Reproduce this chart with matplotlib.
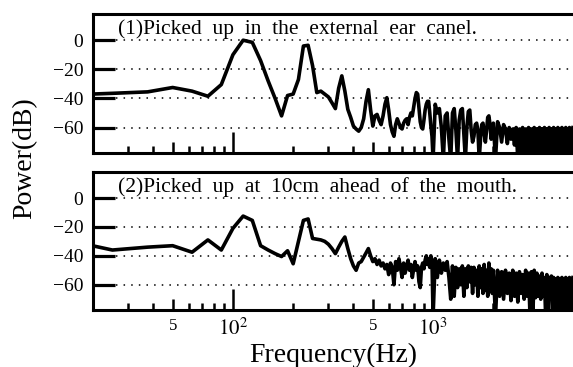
import matplotlib
matplotlib.use('Agg')
import matplotlib.pyplot as plt
import numpy as np

plt.rcParams['font.family'] = ['Liberation Serif', 'DejaVu Serif']
plt.rcParams['mathtext.fontset'] = 'stix'

# frequency bins (Hz)
freq_low = np.arange(12.5, 1000, 12.5)
freq_mid = np.arange(1000, 2000, 25)
freq_high = np.arange(2000, 5001, 50)

# (1) external ear canal, dB
ear_low = [-38, -36.5, -35.5, -32.5, -35, -38.5, -30.5, -10, 0, -1.5,
           -14, -28, -40, -52, -38, -37, -27, -4, -3.5, -17.5,
           -36, -35, -37, -39, -43, -47, -33, -24.5, -35, -47.5,
           -53, -59, -61, -62.5, -60, -54, -42, -34, -48, -59,
           -52, -51, -55, -58, -52, -44, -39.5, -48, -58, -63,
           -66, -58, -54, -57, -60, -61, -57, -55, -54, -58,
           -53, -50, -52, -46, -40, -36, -37, -47, -56, -60,
           -61, -55, -48, -44, -42, -42, -50, -59, -66]
ear_mid = [-82, -44, -50, -47, -60, -82, -52, -50, -68, -82,
           -50, -47, -62, -82, -55, -48, -47, -65, -82, -60,
           -49, -48, -62, -70, -66, -58, -57, -62, -82, -68,
           -58, -57, -64, -70, -62, -53, -52, -58, -68, -63]
ear_high = [-57, -82, -56, -60, -70, -58, -61, -71, -60, -68,
            -61, -72, -60, -82, -61, -82, -60, -82, -61, -82,
            -60, -82, -61, -82, -60, -82, -61, -82, -60, -82,
            -61, -82, -60, -82, -61, -82, -60, -82, -61, -82,
            -60, -82, -61, -82, -60, -82, -61, -82, -60, -82,
            -61, -82, -60, -82, -61, -82, -60, -82, -61, -82, -60]

# (2) 10 cm ahead of the mouth, dB
mouth_low = [-27, -36, -34, -33, -37.5, -29, -36, -21, -12.5, -15.5,
             -33, -36, -38.5, -40.5, -36.5, -45.5, -30, -15.5, -14.5, -28,
             -28.5, -29, -30, -32, -35, -38.5, -34, -30, -27, -35,
             -42, -47, -50, -45, -44, -41, -38, -35, -40, -44,
             -42, -46, -43, -47, -45, -49, -46, -53, -45, -48,
             -60, -44, -50, -42, -48, -55, -45, -52, -47, -43,
             -50, -46, -55, -49, -44, -50, -47, -58, -62, -48,
             -45, -49, -43, -40, -46, -42, -48, -40, -44]
mouth_mid = [-82, -42, -55, -43, -52, -45, -50, -44, -55, -70,
             -47, -68, -48, -62, -49, -60, -47, -68, -49, -62,
             -47, -58, -48, -66, -48, -60, -50, -68, -47, -62,
             -49, -66, -46, -64, -50, -68, -45, -60, -49, -66]
mouth_high = [-50, -82, -50, -68, -51, -70, -50, -66, -52, -71,
              -50, -68, -52, -72, -51, -66, -53, -70, -50, -68,
              -52, -82, -51, -82, -50, -69, -52, -68, -54, -70,
              -52, -68, -55, -82, -53, -82, -55, -70, -54, -82,
              -55, -82, -56, -82, -55, -82, -56, -82, -55, -82,
              -56, -82, -55, -82, -56, -82, -55, -82, -56, -82, -55]

titles = ['(1)Picked  up  in  the  external  ear  canel.',
          '(2)Picked  up  at  10cm  ahead  of  the  mouth.']
yticks = [0, -20, -40, -60]
major_x = [50, 100, 500, 1000]
major_lbl = ['5', '$10^2$', '5', '$10^3$']
minor_x = [30, 40, 60, 70, 80, 90, 200, 300, 400, 600, 700, 800, 900,
           2000, 3000, 4000]

freq = np.concatenate([freq_low, freq_mid, freq_high])
series = [np.concatenate([ear_low, ear_mid, ear_high]),
          np.concatenate([mouth_low, mouth_mid, mouth_high])]

fig = plt.figure(figsize=(5.73, 3.67), dpi=100)
ax1 = fig.add_axes([93/573, 1-153/367, 480/573, 139/367])
ax2 = fig.add_axes([93/573, 1-310/367, 480/573, 138/367])

for i, ax in enumerate([ax1, ax2]):
    ax.plot(freq, series[i], color='black', lw=2.6, solid_joinstyle='round')
    ax.set_xscale('log')
    ax.set_xlim(20, 5000)
    ax.set_ylim(-77.5, 18)
    ax.set_yticks(yticks)
    ax.set_yticklabels(['0', '\u221220', '\u221240', '\u221260'], fontsize=14)
    ax.tick_params(axis='y', direction='in', length=16, width=2.3, pad=7)
    ax.grid(axis='y', color='black', lw=1.1, linestyle=(0, (1, 4)))
    ax.set_xticks(major_x)
    ax.set_xticks(minor_x, minor=True)
    ax.tick_params(axis='x', which='major', direction='in', length=15, width=1.8, pad=6)
    ax.tick_params(axis='x', which='minor', direction='in', length=5, width=1.8)
    ax.tick_params(top=False, right=False, which='both')
    for t, xv in zip(ax.xaxis.get_major_ticks(), major_x):
        if xv in (50, 500):
            t.tick1line.set_markersize(8)
    if i == 0:
        ax.set_xticklabels([])
    else:
        ax.set_xticklabels(major_lbl)
        for lbl, txt in zip(ax.get_xticklabels(), major_lbl):
            lbl.set_fontsize(12 if txt == '5' else 15)
    ax.xaxis.set_minor_formatter(plt.NullFormatter())
    for s in ['left', 'top', 'bottom']:
        ax.spines[s].set_linewidth(2.2)
    ax.spines['right'].set_visible(False)
    ax.text(0.052, 0.965, titles[i], transform=ax.transAxes, fontsize=15.5,
            va='top', ha='left')

ax2.set_xlabel('Frequency(Hz)', fontsize=20, labelpad=2)
fig.text(0.044, 0.57, 'Power(dB)', rotation=90, fontsize=20, ha='center', va='center')

plt.savefig('out.png', dpi=100)
